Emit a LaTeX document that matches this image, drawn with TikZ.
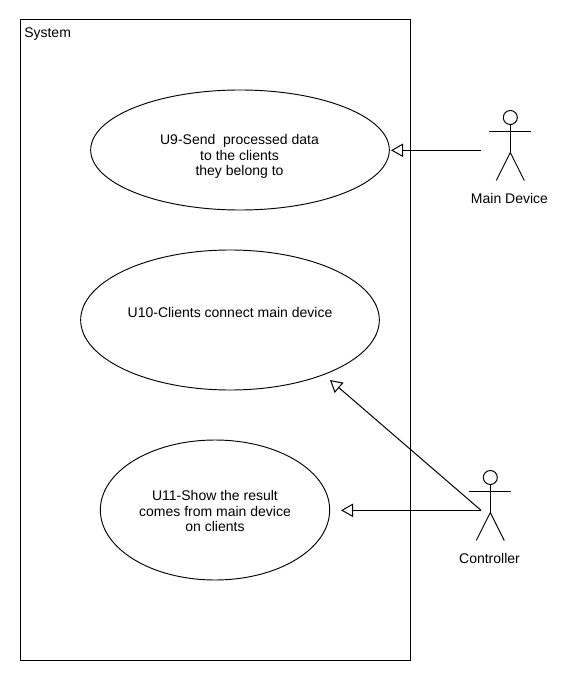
\documentclass[tikz,border=0pt]{standalone}
\usepackage{fontspec}
\setmainfont{Liberation Sans}
\usetikzlibrary{arrows.meta,shapes.geometric}
\tikzset{
 px/.style={x=0.75pt,y=-0.75pt},
 uc/.style={draw=black,ellipse,line width=0.7pt,inner sep=0pt},
 lbl/.style={inner sep=0pt,align=center,font=\fontsize{10.5pt}{11.8pt}\selectfont},
 ln/.style={draw=black,line width=0.75pt},
 tri/.style={-{Triangle[open,fill=white,length=9pt,width=10pt]}}
}
\newcommand{\actor}[2]{%
 \draw[ln] (#1,#2) circle[radius=5.25pt];
 \draw[ln] (#1,#2+7) -- (#1,#2+35);
 \draw[ln] (#1-21,#2+14) -- (#1+21,#2+14);
 \draw[ln] (#1-14,#2+63) -- (#1,#2+35) -- (#1+14,#2+63);
}
\begin{document}
\begin{tikzpicture}[px]
\useasboundingbox (0,0) rectangle (580,680);
\fill[white] (0,0) rectangle (580,680);
\node[draw=black,line width=0.75pt,minimum width=292.5pt,minimum height=480pt,inner sep=0pt] (sys) at (215,340) {};
\node[lbl,anchor=west] (syslbl) at (24,34.5) {System};
\node[uc,minimum width=224pt,minimum height=90pt] (u9) at (240,150) {};
\node[lbl] (u9t) at (239.5,156.5) {U9-Send\ \ processed data\\to the clients\\they belong to};
\node[uc,minimum width=224pt,minimum height=105pt] (u10) at (230,320) {};
\node[lbl] (u10t) at (230,312) {U10-Clients connect main device};
\node[uc,minimum width=172pt,minimum height=105pt] (u11) at (215,510) {};
\node[lbl] (u11t) at (215,511) {U11-Show the result\\comes from main device\\on clients};
\actor{510.3}{117.5}
\actor{490.3}{477.5}
\node[lbl] (a1) at (509.5,198) {Main Device};
\node[lbl] (a2) at (489.5,558) {Controller};
\coordinate (a1p) at (481,150.3);
\coordinate (a2p) at (481,510.3);
\coordinate (t9) at (391,150.3);
\coordinate (t10) at (330,380);
\coordinate (t11) at (341,510.3);
\draw[ln,tri] (a1p) -- (t9);
\draw[ln,tri] (a2p) -- (t10);
\draw[ln,tri] (a2p) -- (t11);
\end{tikzpicture}
\end{document}
